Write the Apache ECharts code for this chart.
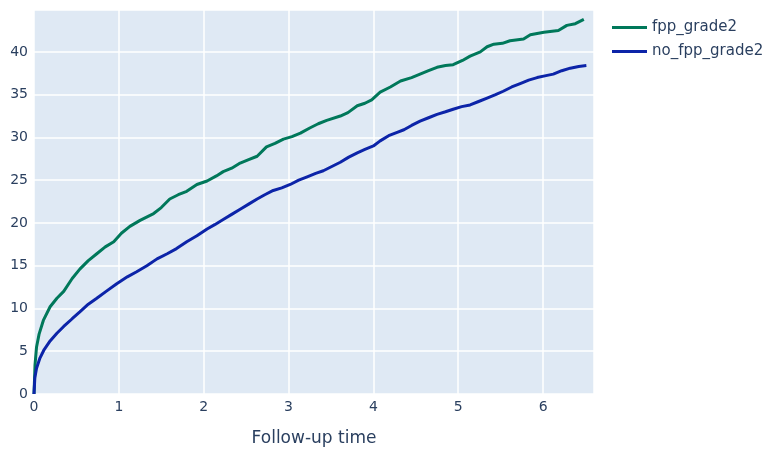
<!DOCTYPE html>
<html>
<head>
<meta charset="utf-8">
<script src="https://cdn.jsdelivr.net/npm/echarts@6/dist/echarts.min.js"></script>
<style>
  html, body { margin: 0; padding: 0; background: #fff; }
  #main { width: 776px; height: 452px; }
</style>
</head>
<body>
<div id="main"></div>
<script>
// cumulative incidence
var timeFpp = [0, 0.012, 0.03, 0.06, 0.11, 0.19, 0.27, 0.35, 0.45, 0.54, 0.64, 0.74, 0.84, 0.94, 1.03, 1.13, 1.25, 1.41, 1.5, 1.6, 1.7, 1.8, 1.92, 2.04, 2.15, 2.23, 2.33, 2.43, 2.53, 2.63, 2.74, 2.84, 2.94, 3.04, 3.14, 3.25, 3.35, 3.45, 3.61, 3.7, 3.81, 3.9, 3.98, 4.08, 4.2, 4.32, 4.45, 4.55, 4.65, 4.75, 4.85, 4.94, 5.05, 5.14, 5.26, 5.34, 5.42, 5.52, 5.61, 5.77, 5.85, 6.01, 6.18, 6.28, 6.38, 6.48];
var cumFpp = [0, 3.4, 5.5, 7, 8.6, 10.2, 11.2, 12, 13.5, 14.6, 15.6, 16.4, 17.2, 17.8, 18.8, 19.6, 20.3, 21.1, 21.8, 22.8, 23.3, 23.7, 24.5, 24.9, 25.5, 26.0, 26.4, 27.0, 27.4, 27.8, 28.9, 29.3, 29.8, 30.1, 30.5, 31.1, 31.6, 32.0, 32.5, 32.9, 33.7, 34.0, 34.4, 35.3, 35.9, 36.6, 37.0, 37.4, 37.8, 38.2, 38.4, 38.5, 39.0, 39.5, 40.0, 40.6, 40.9, 41.0, 41.3, 41.5, 42.0, 42.3, 42.5, 43.1, 43.3, 43.8];

var timeNoFpp = [0, 0.01, 0.03, 0.07, 0.12, 0.19, 0.27, 0.35, 0.45, 0.54, 0.64, 0.74, 0.85, 0.975, 1.1, 1.21, 1.33, 1.45, 1.57, 1.68, 1.8, 1.92, 2.04, 2.13, 2.23, 2.33, 2.43, 2.53, 2.63, 2.72, 2.82, 2.92, 3.02, 3.12, 3.22, 3.32, 3.41, 3.51, 3.61, 3.71, 3.81, 3.9, 4.0, 4.08, 4.18, 4.28, 4.36, 4.45, 4.55, 4.65, 4.75, 4.85, 4.94, 5.04, 5.14, 5.24, 5.34, 5.44, 5.53, 5.63, 5.73, 5.83, 5.93, 6.02, 6.12, 6.22, 6.32, 6.42, 6.51];
var cumNoFpp = [0, 1.9, 3.0, 4.2, 5.2, 6.2, 7.1, 7.9, 8.8, 9.6, 10.5, 11.2, 12.0, 12.9, 13.7, 14.3, 15.0, 15.8, 16.4, 17.0, 17.8, 18.5, 19.3, 19.8, 20.4, 21.0, 21.6, 22.2, 22.8, 23.3, 23.8, 24.1, 24.5, 25.0, 25.4, 25.8, 26.1, 26.6, 27.1, 27.7, 28.2, 28.6, 29.0, 29.6, 30.2, 30.6, 30.9, 31.4, 31.9, 32.3, 32.7, 33.0, 33.3, 33.6, 33.8, 34.2, 34.6, 35.0, 35.4, 35.9, 36.3, 36.7, 37.0, 37.2, 37.4, 37.8, 38.1, 38.3, 38.4];

var seriesNames = ['fpp_grade2', 'no_fpp_grade2'];
var xTitle = 'Follow-up time';

function pairs(xs, ys) {
  return xs.map(function (x, i) { return [x, ys[i]]; });
}

var chartDom = document.getElementById('main');
var myChart = echarts.init(chartDom);
var font = 'DejaVu Sans';
var textColor = '#2a3f5f';
var option = {
  backgroundColor: '#fff',
  animation: false,
  textStyle: { fontFamily: font },
  grid: {
    left: 34, right: 182, top: 10, bottom: 56,
    show: true, backgroundColor: '#dfe9f4', borderWidth: 0
  },
  legend: {
    orient: 'vertical',
    left: 607, top: 15,
    itemGap: 9,
    itemWidth: 35, itemHeight: 3,
    icon: 'rect',
    textStyle: { fontFamily: font, fontSize: 15, color: textColor },
    data: seriesNames
  },
  xAxis: {
    type: 'value',
    min: 0, max: 6.6, interval: 1,
    name: xTitle,
    nameLocation: 'middle',
    nameGap: 36,
    nameTextStyle: { fontFamily: font, fontSize: 17, color: textColor },
    axisLine: { show: false },
    axisTick: { show: false },
    axisLabel: { fontSize: 14, color: textColor, margin: 6, showMaxLabel: false },
    splitLine: { lineStyle: { color: '#fff', width: 1.5 } }
  },
  yAxis: {
    type: 'value',
    min: 0, max: 44.9, interval: 5,
    axisLine: { show: false },
    axisTick: { show: false },
    axisLabel: { fontSize: 14, color: textColor, margin: 6, showMaxLabel: false },
    splitLine: { lineStyle: { color: '#fff', width: 1.5 } }
  },
  series: [
    {
      name: seriesNames[0],
      type: 'line',
      data: pairs(timeFpp, cumFpp),
      showSymbol: false,
      color: '#00785a',
      lineStyle: { width: 3, color: '#00785a' }
    },
    {
      name: seriesNames[1],
      type: 'line',
      data: pairs(timeNoFpp, cumNoFpp),
      showSymbol: false,
      color: '#0c24a8',
      lineStyle: { width: 3, color: '#0c24a8' }
    }
  ]
};
option && myChart.setOption(option);
</script>
</body>
</html>
